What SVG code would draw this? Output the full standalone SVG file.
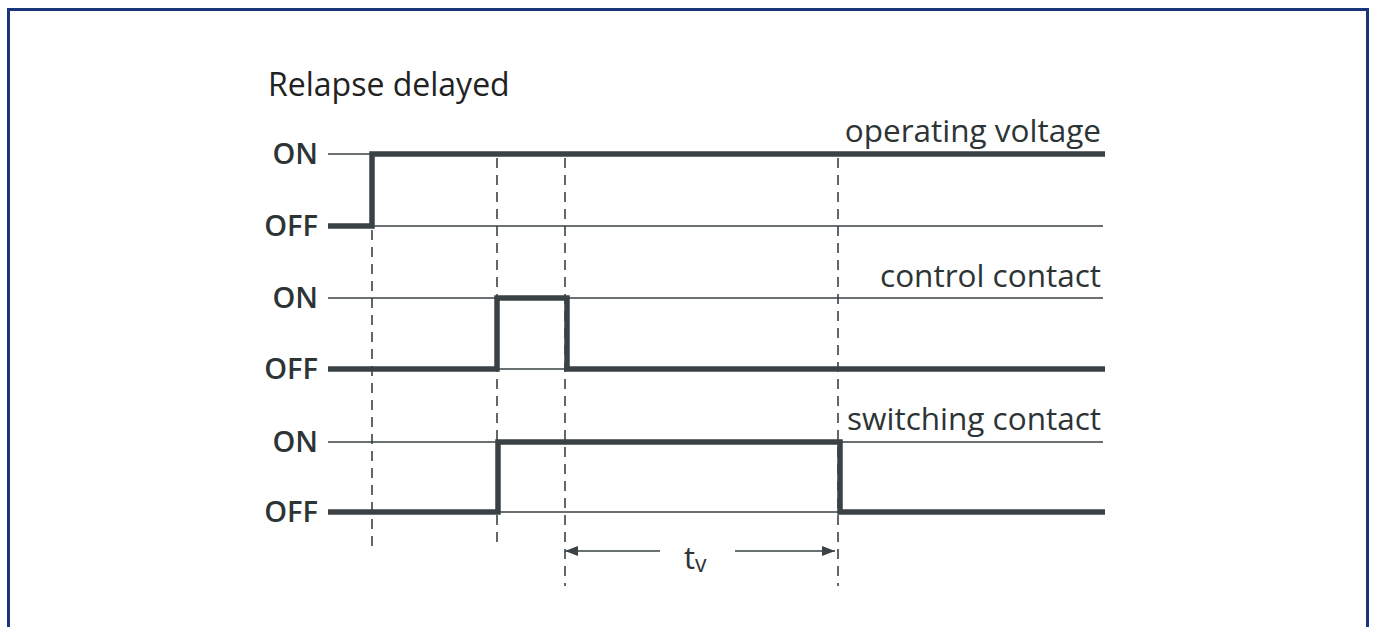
<svg xmlns="http://www.w3.org/2000/svg" width="1375" height="627" viewBox="0 0 1375 627">
<style>
.frame{fill:#fff;stroke:#1c347c;stroke-width:3}
.thin{stroke:#3a4245;stroke-width:1.5;fill:none}
.thick{stroke:#3a4245;stroke-width:5.5;fill:none;stroke-linejoin:miter;stroke-linecap:butt}
.dash{stroke:#3a4245;stroke-width:1.6;stroke-dasharray:10 7;fill:none}
.lvl{font-family:"Open Sans","Noto Sans",sans-serif;font-weight:600;font-size:29px;fill:#2d3436;text-anchor:end}
.lab{font-family:"Open Sans","Noto Sans",sans-serif;font-size:31.5px;fill:#2d3436;text-anchor:end}
.title{font-family:"Open Sans","Noto Sans",sans-serif;font-size:32px;fill:#222}
</style>
<defs>
<marker id="ah" viewBox="0 0 13 10" refX="13" refY="5" markerWidth="13" markerHeight="10" markerUnits="userSpaceOnUse" orient="auto-start-reverse">
<path d="M0,0 L13,5 L0,10 z" fill="#3a4245"/>
</marker>
</defs>
<rect class="frame" x="8.5" y="9.5" width="1359" height="640"/>
<text class="title" x="268" y="96">Relapse delayed</text>

<g id="operating-voltage">
<line class="thin" x1="328" y1="154" x2="372" y2="154"/>
<line class="thin" x1="372" y1="226" x2="1103" y2="226"/>
<polyline class="thick" points="328,226 372,226 372,154 1105,154"/>
<text class="lvl" x="318" y="164">ON</text>
<text class="lvl" x="318" y="236">OFF</text>
<text class="lab" x="1101" y="142">operating voltage</text>
</g>

<g id="control-contact">
<line class="thin" x1="328" y1="298" x2="1103" y2="298"/>
<line class="thin" x1="497" y1="369" x2="567" y2="369"/>
<polyline class="thick" points="328,369 497,369 497,298 567,298 567,369 1105,369"/>
<text class="lvl" x="318" y="308">ON</text>
<text class="lvl" x="318" y="379">OFF</text>
<text class="lab" x="1101" y="287">control contact</text>
</g>

<g id="switching-contact">
<line class="thin" x1="328" y1="442" x2="1103" y2="442"/>
<line class="thin" x1="498" y1="512" x2="840" y2="512"/>
<polyline class="thick" points="328,512 498,512 498,442 840,442 840,512 1105,512"/>
<text class="lvl" x="318" y="452">ON</text>
<text class="lvl" x="318" y="522">OFF</text>
<text class="lab" x="1101" y="430">switching contact</text>
</g>

<g id="connectors">
<line class="dash" x1="372" y1="230" x2="372" y2="548"/>
<line class="dash" x1="497" y1="158" x2="497" y2="548"/>
<line class="dash" x1="565" y1="158" x2="565" y2="586"/>
<line class="dash" x1="838" y1="158" x2="838" y2="586"/>
<line class="thin" x1="660" y1="551" x2="565" y2="551" stroke-width="2" marker-end="url(#ah)"/>
<line class="thin" x1="735" y1="551" x2="835" y2="551" stroke-width="2" marker-end="url(#ah)"/>
</g>
<text font-family="'Open Sans','Noto Sans',sans-serif" font-size="31" fill="#2d3436" x="684" y="569">t<tspan font-size="23" dy="3">v</tspan></text>
</svg>
